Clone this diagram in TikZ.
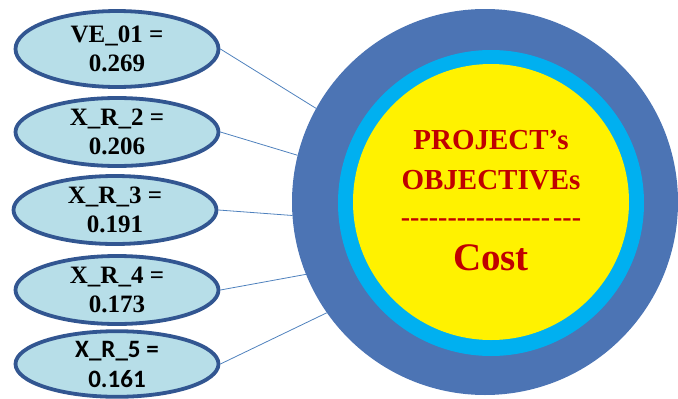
\documentclass[tikz,border=0pt]{standalone}
\usepackage{fontspec}
\setmainfont{Liberation Serif}
\newfontfamily\calib{Carlito}
\usepackage{tikz}
\usetikzlibrary{shapes.geometric}

\definecolor{ringblue}{RGB}{76,116,180}
\definecolor{ringcyan}{RGB}{0,176,240}
\definecolor{ovalfill}{RGB}{183,222,232}
\definecolor{ovaledge}{RGB}{50,86,145}
\definecolor{linkblue}{RGB}{79,129,189}
\definecolor{objred}{RGB}{192,0,0}

\begin{document}
\begin{tikzpicture}[x=1pt,y=-1pt,
    factor/.style={ellipse,draw=ovaledge,line width=3.8pt,fill=ovalfill,
        minimum width=203pt,inner sep=0pt,align=center,
        font=\rmfamily\bfseries\fontsize{25}{29}\selectfont},
    link/.style={draw=linkblue,line width=0.8pt}]
			\useasboundingbox (0,0) rectangle (678,399);

			\node[circle,fill=ringblue,minimum size=386pt,inner sep=0pt] (outer) at (485,202){};
			\node[circle,fill=ringcyan,minimum size=306pt,inner sep=0pt] (middle) at (491,203){};
			\node[circle,fill=yellow,minimum size=276pt,inner sep=0pt] (inner) at (491,202){};

			\node[factor,minimum height=76pt] (ve) at (117,49){VE\_01 =\\0.269};
			\node[factor,minimum height=68pt] (xr2) at (117,132){X\_R\_2 =\\0.206};
			\node[factor,minimum height=68pt] (xr3) at (115,210){X\_R\_3 =\\0.191};
			\node[factor,minimum height=68pt] (xr4) at (117,290){X\_R\_4 =\\0.173};
			\node[factor,minimum height=64pt,font=\calib\bfseries\fontsize{25}{30}\selectfont] (xr5) at (117,364){X\_R\_5 =\\0.161};

			\draw[link] (ve.east)--(outer.151);
			\draw[link] (xr2.east)--(outer.166);
			\draw[link] (xr3.east)--(outer.184);
			\draw[link] (xr4.east)--(outer.202);
			\draw[link] (xr5.east)--(outer.215);

			\node[text=objred,align=center,font=\rmfamily\bfseries\fontsize{29}{40}\selectfont] (title) at (491,160){PROJECT’s\\OBJECTIVEs};
			\node[text=objred,font=\rmfamily\bfseries\fontsize{28}{30}\selectfont] (rule) at (491,223){{-}{-}{-}{-}{-}{-}{-}{-}{-}{-}{-}{-}{-}{-}{-}{-}\kern3pt{-}{-}{-}};
			\node[text=objred,font=\rmfamily\bfseries\fontsize{39}{44}\selectfont] (cost) at (491,258){Cost};
		\end{tikzpicture}
\end{document}
